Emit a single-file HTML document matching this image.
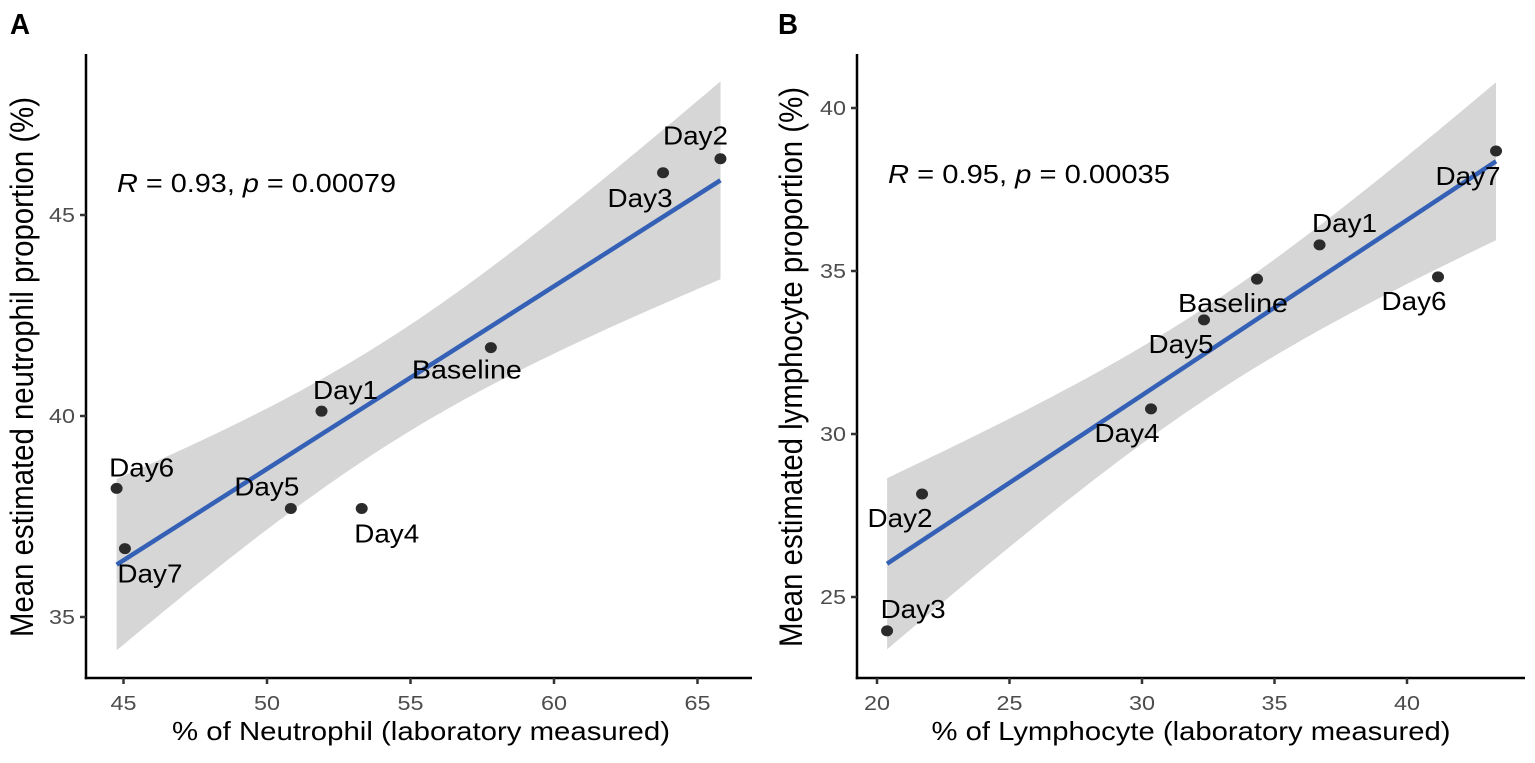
<!DOCTYPE html>
<html><head><meta charset="utf-8"><style>
html,body{margin:0;padding:0;background:#fff}
svg{display:block;font-family:"Liberation Sans",Arial,sans-serif}
</style></head><body>
<svg id="fig" width="1535" height="763" viewBox="0 0 1535 763"></svg>
<script>
// Panel A data
const labelsA = ["Baseline","Day1","Day2","Day3","Day4","Day5","Day6","Day7"];
const xA = [57.8, 51.9, 65.8, 63.8, 53.3, 50.83, 44.76, 45.05];
const yA = [41.7, 40.12, 46.4, 46.05, 37.7, 37.7, 38.2, 36.7];
const xTicksA = [45, 50, 55, 60, 65];
const yTicksA = [35, 40, 45];
const statA = "0.93";
const pA = "0.00079";
// Panel B data
const labelsB = ["Baseline","Day1","Day2","Day3","Day4","Day5","Day6","Day7"];
const xB = [34.34, 36.7, 21.7, 20.38, 30.34, 32.34, 41.17, 43.36];
const yB = [34.75, 35.8, 28.16, 23.96, 30.77, 33.5, 34.82, 38.68];
const xTicksB = [20, 25, 30, 35, 40];
const yTicksB = [25, 30, 35, 40];
const statB = "0.95";
const pB = "0.00035";

const NS = "http://www.w3.org/2000/svg";
const svg = document.getElementById('fig');
function mk(tag, attrs, parent){
  const e = document.createElementNS(NS, tag);
  for (const k in attrs) e.setAttribute(k, attrs[k]);
  (parent||svg).appendChild(e);
  return e;
}
function txt(parent, x, y, s, size, len, anchor, extra){
  const g = mk('g', {transform:`translate(${x},${y})`}, parent);
  const t = mk('text', Object.assign({x:0, y:0, 'font-size':size, 'text-anchor':anchor||'middle', textLength:len, lengthAdjust:'spacingAndGlyphs'}, extra||{}), g);
  t.innerHTML = s;
  return t;
}

function panel(cfg){
  const P = mk('g', {});
  
  
  const sx = v => cfg.x0 + (v - cfg.xv0) * cfg.kx;
  const sy = v => cfg.y0 - (v - cfg.yv0) * cfg.ky;
  const xs = cfg.xs, ys = cfg.ys, n = xs.length;
  const mx = xs.reduce((a,b)=>a+b,0)/n, my = ys.reduce((a,b)=>a+b,0)/n;
  let sxx=0, sxy=0; for (let i=0;i<n;i++){sxx+=(xs[i]-mx)**2; sxy+=(xs[i]-mx)*(ys[i]-my);}
  const b = sxy/sxx, a = my - b*mx;
  let sse=0; for (let i=0;i<n;i++) sse += (ys[i]-a-b*xs[i])**2;
  const s = Math.sqrt(sse/(n-2)), tq = 2.4469;
  const xmin = Math.min(...xs), xmax = Math.max(...xs);
  const up=[], lo=[];
  for (let k=0;k<=80;k++){
    const xv = xmin + (xmax-xmin)*k/80;
    const f = a + b*xv, se = s*Math.sqrt(1/n + (xv-mx)**2/sxx);
    up.push(`${sx(xv).toFixed(1)},${sy(f+tq*se).toFixed(1)}`);
    lo.unshift(`${sx(xv).toFixed(1)},${sy(f-tq*se).toFixed(1)}`);
  }
  const band = mk('polygon', {points: up.concat(lo).join(' '), fill:'#d6d6d6'}, P);
  
  
  const line = mk('line', {x1:sx(xmin), y1:sy(a+b*xmin), x2:sx(xmax), y2:sy(a+b*xmax), stroke:'#3461b5', 'stroke-width':4.5}, P);
  
  
  for (let i=0;i<n;i++){
    const c = mk('ellipse', {cx:sx(xs[i]), cy:sy(ys[i]), rx:6, ry:5.5, fill:'#2b2b2b'}, P);
    
    
    const off = cfg.off[cfg.labels[i]];
    const L = txt(P, sx(xs[i])+off[0], sy(ys[i])+off[1]+9, cfg.labels[i], 26, cfg.labels[i]==='Baseline'?110:65);
    
    
  }
  const ya = mk('line', {x1:cfg.ax, y1:54, x2:cfg.ax, y2:cfg.axY+1.25, stroke:'#000', 'stroke-width':2.5}, P);
  
  
  const xa = mk('line', {x1:cfg.ax-1.25, y1:cfg.axY, x2:cfg.axEnd, y2:cfg.axY, stroke:'#000', 'stroke-width':2.5}, P);
  
  
  cfg.xt.forEach(v=>{
    mk('line', {x1:sx(v), y1:cfg.axY, x2:sx(v), y2:cfg.axY+6, stroke:'#333', 'stroke-width':2.5}, P);
    const t = txt(P, sx(v), cfg.axY+32, String(v), 20, 26, 'middle', {fill:'#4d4d4d'});
    
    
  });
  cfg.yt.forEach(v=>{
    mk('line', {x1:cfg.ax-6, y1:sy(v), x2:cfg.ax, y2:sy(v), stroke:'#333', 'stroke-width':2.5}, P);
    const t = txt(P, cfg.ax-11, sy(v)+7, String(v), 20, 26, 'end', {fill:'#4d4d4d'});
    
    
  });
  const xt = txt(P, cfg.xtc, 740, cfg.xtitle, 26, cfg.xtlen);
  
  
  const g = mk('g', {transform:`translate(${cfg.ytx},367) scale(1.2,1) rotate(-90)`}, P);
  const yt = mk('text', {x:0, y:0, 'font-size':27, 'text-anchor':'middle', textLength:cfg.ytlen, lengthAdjust:'spacingAndGlyphs'}, g);
  yt.textContent = cfg.ytitle;
  
  
  const st = txt(P, cfg.rx, cfg.ry+9, `<tspan font-style="italic">R</tspan> = ${cfg.r}, <tspan font-style="italic">p</tspan> = ${cfg.p}`, 26, cfg.rlen, 'start');
  
  
  const pl = txt(P, cfg.plx, 34, cfg.letter, 29, 20, 'start', {'font-weight':'bold'});
  
  
}

panel({name:'panel-a-neutrophil', labels:labelsA, xs:xA, ys:yA, xt:xTicksA, yt:yTicksA,
  x0:123.5, xv0:45, kx:28.7, y0:416, yv0:40, ky:40.2, ax:86, axY:678, axEnd:752,
  off:{Day6:[25,-21],Day7:[25,25],Day5:[-24,-22],Day4:[25,25],Day1:[24,-21],Baseline:[-24,22],Day3:[-23,25],Day2:[-25,-23]},
  xtitle:'% of Neutrophil (laboratory measured)', xtc:421, xtlen:498,
  ytitle:'Mean estimated neutrophil proportion (%)', ytx:33, ytlen:540,
  r:statA, p:pA, rx:117, ry:183, rlen:279, letter:'A', plx:10});
panel({name:'panel-b-lymphocyte', labels:labelsB, xs:xB, ys:yB, xt:xTicksB, yt:yTicksB,
  x0:877, xv0:20, kx:26.5, y0:434, yv0:30, ky:32.6, ax:857, axY:678, axEnd:1525,
  off:{Day3:[26,-22],Day2:[-22,24],Day4:[-24,24],Day5:[-23,24],Baseline:[-24,24],Day1:[25,-22],Day6:[-24,24],Day7:[-28,25]},
  xtitle:'% of Lymphocyte (laboratory measured)', xtc:1191, xtlen:519,
  ytitle:'Mean estimated lymphocyte proportion (%)', ytx:802, ytlen:560,
  r:statB, p:pB, rx:888, ry:174, rlen:282, letter:'B', plx:778});
</script>
</body></html>
